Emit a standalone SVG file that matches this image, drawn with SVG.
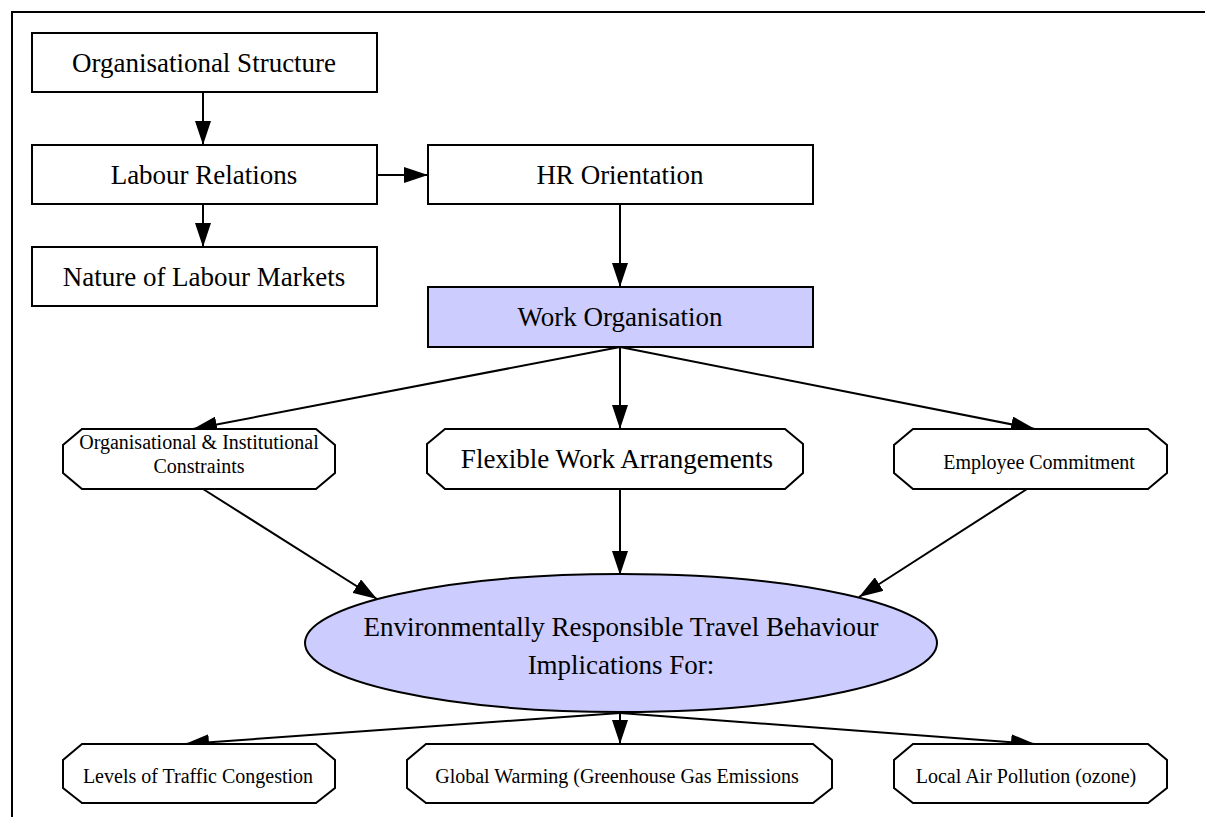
<svg xmlns="http://www.w3.org/2000/svg" width="1205" height="817" viewBox="0 0 1205 817">
<style>
.box{fill:#ffffff;stroke:#000;stroke-width:2}
.hl{fill:#ccccff;stroke:#000;stroke-width:2}
.edge{fill:none;stroke:#000;stroke-width:2;marker-end:url(#arr)}
text{font-family:"Liberation Serif","Times New Roman",serif;fill:#000;text-anchor:middle}
.l{font-size:27px}
.s{font-size:20px}
</style>
<defs>
<marker id="arr" markerUnits="userSpaceOnUse" markerWidth="24" markerHeight="16" refX="24" refY="8" orient="auto">
<path d="M0,0 L24,8 L0,16 z" fill="#000"/>
</marker>
</defs>
<rect x="12" y="12" width="1300" height="900" fill="#fff" stroke="#000" stroke-width="2"/>
<g id="connectors">
<line class="edge" x1="203" y1="92" x2="203" y2="145"/>
<line class="edge" x1="203" y1="204" x2="203" y2="247"/>
<line class="edge" x1="377" y1="175" x2="428" y2="175"/>
<line class="edge" x1="620" y1="204" x2="620" y2="287"/>
<line class="edge" x1="620" y1="347" x2="193" y2="429"/>
<line class="edge" x1="620" y1="347" x2="620" y2="429"/>
<line class="edge" x1="620" y1="347" x2="1035" y2="429"/>
<line class="edge" x1="203" y1="489" x2="377" y2="599"/>
<line class="edge" x1="620" y1="489" x2="620" y2="575"/>
<line class="edge" x1="1027" y1="489" x2="859" y2="597"/>
<line class="edge" x1="620" y1="713" x2="185" y2="744"/>
<line class="edge" x1="620" y1="713" x2="620" y2="744"/>
<line class="edge" x1="620" y1="713" x2="1035" y2="744"/>
</g>
<g id="org-structure">
<rect class="box" x="32" y="33" width="345" height="59"/>
<text class="l" x="204" y="72">Organisational Structure</text>
</g>
<g id="labour-relations">
<rect class="box" x="32" y="145" width="345" height="59"/>
<text class="l" x="204" y="184">Labour Relations</text>
</g>
<g id="labour-markets">
<rect class="box" x="32" y="247" width="345" height="59"/>
<text class="l" x="204" y="286">Nature of Labour Markets</text>
</g>
<g id="hr-orientation">
<rect class="box" x="428" y="145" width="385" height="59"/>
<text class="l" x="620" y="184">HR Orientation</text>
</g>
<g id="work-organisation">
<rect class="hl" x="428" y="287" width="385" height="60"/>
<text class="l" x="620" y="326">Work Organisation</text>
</g>
<g id="org-constraints">
<polygon class="box" points="82,429 316,429 335,445 335,473 316,489 82,489 63,473 63,445"/>
<text class="s" x="199" y="449">Organisational &amp; Institutional</text>
<text class="s" x="199" y="473">Constraints</text>
</g>
<g id="flexible-work">
<polygon class="box" points="445,429 785,429 803,444 803,473 785,489 445,489 427,473 427,444"/>
<text class="l" x="617" y="468">Flexible Work Arrangements</text>
</g>
<g id="employee-commitment">
<polygon class="box" points="913,429 1148,429 1167,445 1167,473 1148,489 913,489 894,473 894,445"/>
<text class="s" x="1039" y="469">Employee Commitment</text>
</g>
<g id="travel-behaviour">
<ellipse class="hl" cx="621" cy="643" rx="316" ry="69"/>
<text class="l" x="621" y="636">Environmentally Responsible Travel Behaviour</text>
<text class="l" x="621" y="674">Implications For:</text>
</g>
<g id="traffic-congestion">
<polygon class="box" points="82,744 316,744 335,760 335,788 316,803 82,803 63,788 63,760"/>
<text class="s" x="198" y="783">Levels of Traffic Congestion</text>
</g>
<g id="global-warming">
<polygon class="box" points="426,744 813,744 832,760 832,788 813,803 426,803 407,788 407,760"/>
<text class="s" x="617" y="783">Global Warming (Greenhouse Gas Emissions</text>
</g>
<g id="air-pollution">
<polygon class="box" points="913,744 1148,744 1167,760 1167,788 1148,803 913,803 894,788 894,760"/>
<text class="s" x="1026" y="783">Local Air Pollution (ozone)</text>
</g>
</svg>
